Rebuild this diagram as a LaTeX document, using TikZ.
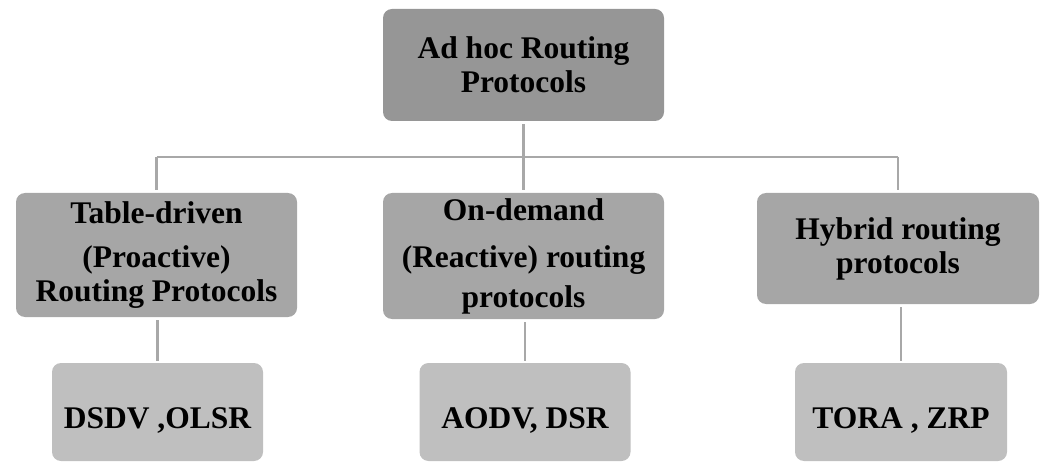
\documentclass[tikz,border=0pt]{standalone}
\usepackage{fontspec}
\setmainfont{Liberation Serif}
\usepackage{xcolor}
\definecolor{dark_gray}{RGB}{150,150,150}
\definecolor{mid_gray}{RGB}{166,166,166}
\definecolor{light_gray}{RGB}{191,191,191}
\definecolor{line_gray}{RGB}{168,168,168}
\usepackage{tikz}

\tikzset{
  box/.style={fill=#1, rounded corners=9pt, align=center, inner sep=0pt,
    font=\fontsize{31.5}{34}\selectfont\bfseries},
  link/.style={draw=line_gray, line width=2.5pt}
}

\begin{document}
\begin{tikzpicture}[x=1pt, y=-1pt]
\useasboundingbox (0,0) rectangle (1043,462);

\node[box=dark_gray, minimum width=281pt, minimum height=112pt] (root) at (523.5, 65) {Ad hoc Routing\\Protocols};

\node[box=mid_gray, minimum width=281pt, minimum height=124pt] (proact) at (156.5, 255) {Table-driven\\[10pt](Proactive)\\Routing Protocols};
\node[box=mid_gray, minimum width=281pt, minimum height=126pt] (react) at (523.5, 256) {On-demand\\[13pt](Reactive) routing\\[6pt]protocols};
\node[box=mid_gray, minimum width=282pt, minimum height=111pt] (hybrid) at (898, 248.5) {Hybrid routing\\protocols};

\node[box=light_gray, minimum width=211pt, minimum height=98pt, text height=36pt, text depth=4pt] (dsdv) at (157.5, 412) {DSDV ,OLSR};
\node[box=light_gray, minimum width=211pt, minimum height=98pt, text height=36pt, text depth=4pt] (aodv) at (525, 412) {AODV, DSR};
\node[box=light_gray, minimum width=212pt, minimum height=98pt, text height=36pt, text depth=4pt] (tora) at (901, 412) {TORA , ZRP};

% tree lines
\coordinate (bus) at (0, 157);
\draw[link, shorten <=3pt] (root.south) -- (root.south |- bus);
\draw[link] (proact.north |- bus) -- (hybrid.north |- bus);
\draw[link, shorten >=3pt] (proact.north |- bus) -- (proact.north);
\draw[link, shorten >=3pt] (react.north |- bus) -- (react.north);
\draw[link, shorten >=3pt] (hybrid.north |- bus) -- (hybrid.north);

\draw[link, shorten <=3pt, shorten >=2pt] (dsdv.north |- proact.south) -- (dsdv.north);
\draw[link, shorten <=3pt, shorten >=2pt] (aodv.north |- react.south) -- (aodv.north);
\draw[link, shorten <=3pt, shorten >=2pt] (tora.north |- hybrid.south) -- (tora.north);

\end{tikzpicture}
\end{document}
